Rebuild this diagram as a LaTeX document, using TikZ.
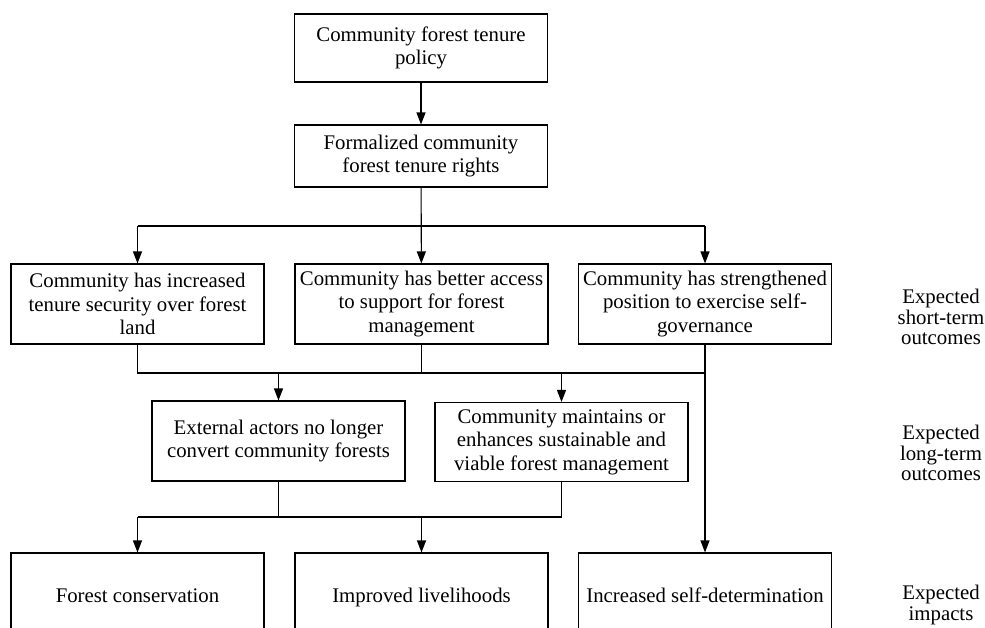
\documentclass[tikz,border=0pt]{standalone}
\usepackage{fontspec}
\setmainfont{Liberation Serif}
\usetikzlibrary{arrows.meta}

\begin{document}
\begin{tikzpicture}[x=1pt, y=-1pt,
		box/.style={draw, line width=1.1pt, align=center, inner sep=0pt, minimum width=253pt, font=\fontsize{20.8}{23.5}\selectfont},
		label/.style={align=center, inner sep=0pt, font=\fontsize{20.8}{20.4}\selectfont},
		link/.style={line width=1.1pt},
		arr/.style={line width=1.1pt, -{Triangle[length=12pt, width=9pt]}}]
		\useasboundingbox (0, 0) rectangle (985, 627);
		
		\node[box, minimum height=68pt] (policy) at (421, 48) {Community forest tenure\\policy};
		\node[box, minimum height=62pt] (rights) at (421, 156) {Formalized community\\forest tenure rights};
		
		\node[box, minimum height=80pt] (tenure) at (137.5, 304) {Community has increased\\tenure security over forest\\land};
		\node[box, minimum height=80pt] (support) at (421.5, 304) {Community has better access\\to support for forest\\management};
		\node[box, minimum height=80pt] (selfgov) at (705, 304) {Community has strengthened\\position to exercise self-\\governance};
		
		\node[box, minimum height=80pt] (convert) at (278.5, 441) {External actors no longer\\convert community forests};
		\node[box, minimum height=79pt] (sustain) at (561.5, 442) {Community maintains or\\enhances sustainable and\\viable forest management};
		
		\node[box, minimum height=90pt] (conserv) at (137.5, 598) {\strut Forest conservation};
		\node[box, minimum height=90pt] (liveli) at (421.5, 598) {\strut Improved livelihoods};
		\node[box, minimum height=90pt] (selfdet) at (705, 598) {\strut Increased self-determination};
		
		\node[label] (short) at (941, 317) {Expected\\short-term\\outcomes};
		\node[label] (long) at (941, 453) {Expected\\long-term\\outcomes};
		\node[label] (impact) at (941, 605) {Expected\\impacts};
		
		\coordinate (b1) at (0, 226);
		\coordinate (b2) at (0, 373);
		\coordinate (b3) at (0, 517);
		
		\draw[arr] (policy) -- (rights);
		
		\draw[arr] (rights) -- (support);
		\draw[link] (tenure.north |- b1) -- (selfgov.north |- b1);
		\draw[arr] (tenure.north |- b1) -- (tenure);
		\draw[arr] (selfgov.north |- b1) -- (selfgov);
		
		\draw[link] (tenure) |- (selfgov.south |- b2);
		\draw[link] (support) -- (support.south |- b2);
		\draw[arr] (selfgov) -- (selfdet);
		\draw[arr] (convert.north |- b2) -- (convert);
		\draw[arr] (sustain.north |- b2) -- (sustain);
		
		\draw[link] (convert) -- (convert.south |- b3);
		\draw[link] (sustain) |- (conserv.north |- b3);
		\draw[arr] (conserv.north |- b3) -- (conserv);
		\draw[arr] (liveli.north |- b3) -- (liveli);
	\end{tikzpicture}
\end{document}
